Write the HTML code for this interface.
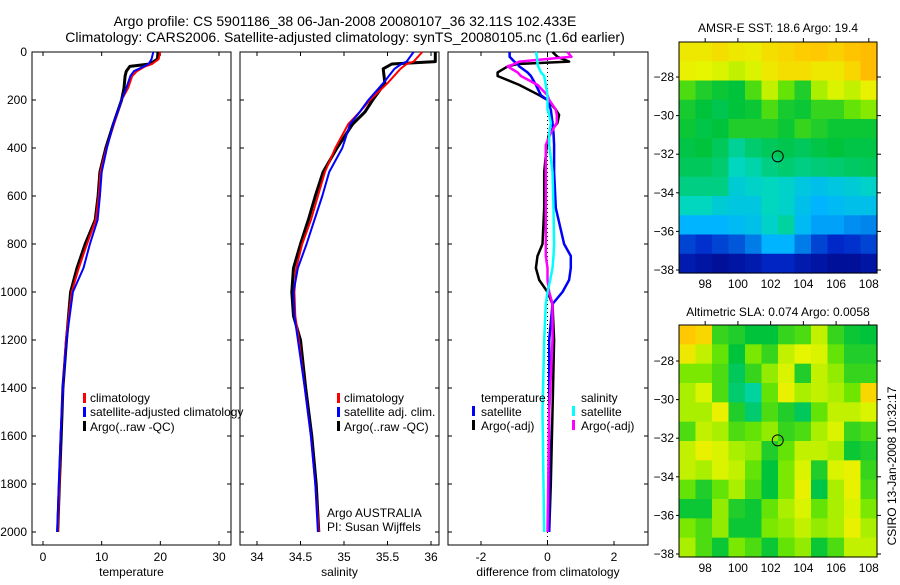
<!DOCTYPE html>
<html><head><meta charset="utf-8"><style>
html,body{margin:0;padding:0;background:#fff;}
svg text{font-family:"Liberation Sans",sans-serif;fill:#000;}
</style></head><body>
<svg id="fig" xmlns="http://www.w3.org/2000/svg" width="900" height="580" viewBox="0 0 900 580">
<text x="345" y="26" font-size="14" text-anchor="middle">Argo profile: CS 5901186_38 06-Jan-2008 20080107_36 32.11S 102.433E</text>
<text x="345" y="42" font-size="14" text-anchor="middle">Climatology: CARS2006. Satellite-adjusted climatology: synTS_20080105.nc (1.6d earlier)</text>
<g id="plots"></g>
<text x="778" y="32" font-size="12" text-anchor="middle">AMSR-E SST: 18.6 Argo: 19.4</text>
<text x="778" y="316" font-size="12" text-anchor="middle">Altimetric SLA: 0.074 Argo: 0.0058</text>
<text x="0" y="0" font-size="12" text-anchor="middle" transform="translate(896,466) rotate(-90)">CSIRO 13-Jan-2008 10:32:17</text>
<text x="90" y="402" font-size="12">climatology</text>
<text x="90" y="416" font-size="12">satellite-adjusted climatology</text>
<text x="90" y="431" font-size="12">Argo(..raw -QC)</text>
<rect x="83" y="393" width="3" height="10" fill="#f00"/><rect x="83" y="407" width="3" height="10" fill="#00f"/><rect x="83" y="421" width="3" height="10" fill="#000"/>
<text x="344" y="402" font-size="12">climatology</text>
<text x="344" y="416" font-size="12">satellite adj. clim.</text>
<text x="344" y="431" font-size="12">Argo(..raw -QC)</text>
<rect x="337" y="393" width="3" height="10" fill="#f00"/><rect x="337" y="407" width="3" height="10" fill="#00f"/><rect x="337" y="421" width="3" height="10" fill="#000"/>
<text x="327" y="517" font-size="12">Argo AUSTRALIA</text>
<text x="327" y="531" font-size="12">PI: Susan Wijffels</text>
<text x="481" y="402" font-size="12">temperature</text>
<text x="481" y="416" font-size="12">satellite</text>
<text x="481" y="430" font-size="12">Argo(-adj)</text>
<rect x="472" y="406" width="3" height="10" fill="#00f"/><rect x="472" y="420" width="3" height="10" fill="#000"/>
<text x="581" y="402" font-size="12">salinity</text>
<text x="581" y="416" font-size="12">satellite</text>
<text x="581" y="430" font-size="12">Argo(-adj)</text>
<rect x="572" y="406" width="3" height="10" fill="#0ff"/><rect x="572" y="420" width="3" height="10" fill="#f0f"/>
</svg>
<script>
// ---- profile data ----
const tDepth=[0,30,50,60,80,100,150,200,300,400,500,600,700,800,900,1000,1200,1400,1600,1800,2000];
const tArgo=[19.6,19.5,18.2,14.8,14.2,14.0,13.8,13.4,12.0,10.7,9.7,9.4,8.9,7.2,5.8,4.7,4.0,3.4,3.1,2.8,2.5];
const tClim=[20.0,19.7,18.6,17.4,16.0,15.2,14.5,13.4,12.1,10.8,9.8,9.5,9.0,7.5,6.1,4.9,3.9,3.4,3.0,2.8,2.5];
const tSat=[18.8,18.5,18.0,17.2,15.5,14.9,14.2,13.4,12.0,10.9,10.0,9.7,9.3,8.0,6.9,5.1,4.0,3.4,3.0,2.7,2.4];
const sDepth=[0,40,50,70,130,200,250,300,400,500,600,700,800,900,1000,1100,1200,1400,1600,1800,2000];
const sArgo=[36.05,36.05,35.55,35.45,35.47,35.33,35.24,35.1,34.92,34.76,34.67,34.59,34.5,34.42,34.4,34.42,34.5,34.56,34.63,34.68,34.71];
const sClim=[35.9,35.8,35.72,35.65,35.5,35.3,35.18,35.05,34.9,34.78,34.7,34.62,34.52,34.45,34.43,34.44,34.48,34.55,34.62,34.67,34.71];
const sSat=[35.8,35.72,35.66,35.58,35.45,35.28,35.18,35.07,34.98,34.83,34.75,34.66,34.57,34.47,34.42,34.43,34.47,34.55,34.62,34.67,34.7];
const dDepth=[0,20,40,50,60,85,100,137,180,200,240,262,295,338,388,500,650,800,850,900,950,1000,1050,1200,1500,1800,2000];
const dTempSat=[-1.14,-1.14,-1.0,-0.9,-0.85,-0.6,-0.5,-0.35,-0.2,0,0.1,0.12,0.15,0.18,0.2,0.2,0.25,0.5,0.7,0.7,0.65,0.45,0.15,0.05,0.05,0.05,0.05];
const dTempArgo=[0.15,0.3,0.65,-0.9,-1.2,-1.5,-1.5,-0.85,-0.25,0,0.25,0.35,0.3,0.05,-0.02,-0.1,-0.1,-0.15,-0.3,-0.35,-0.25,0.0,0.15,0.2,0.15,0.1,0.05];
const dSalSat=[-0.35,-0.32,-0.3,-0.3,-0.28,-0.2,-0.1,-0.05,0,0,0,0.05,0.1,0.05,0.05,0.15,0.18,0.2,0.18,0.15,0.08,0.0,-0.05,-0.1,-0.15,-0.12,-0.1];
const dSalArgo=[0.6,0.72,-0.85,-1.0,-1.2,-0.9,-0.8,-0.3,0,0.05,0.25,0.28,0.28,0.1,-0.05,-0.05,-0.05,-0.05,-0.05,0,0,0.05,0.15,0.15,0.05,0.02,0.0];
const tTicks=[0,10,20,30], sTicks=[34,34.5,35,35.5,36], dTicks=[-2,0,2];
const depthTicks=[0,200,400,600,800,1000,1200,1400,1600,1800,2000];
// ---- map data ----
const lonTicks=[98,100,102,104,106,108], latTicks1=[-28,-30,-32,-34,-36,-38], latTicks2=[-28,-30,-32,-34,-36,-38];
const floatLon=102.433, floatLat=-32.11;
const sstGrid=[
[.78,.78,.8,.78,.77,.8,.82,.84,.85,.83,.86,.88],
[.76,.75,.74,.72,.74,.78,.8,.8,.78,.78,.82,.88],
[.62,.58,.56,.55,.62,.72,.64,.58,.7,.74,.72,.76],
[.57,.55,.53,.55,.56,.62,.57,.56,.6,.6,.64,.67],
[.56,.54,.55,.58,.58,.58,.56,.6,.58,.56,.56,.56],
[.54,.55,.52,.46,.5,.52,.53,.52,.54,.55,.54,.54],
[.52,.52,.5,.42,.44,.48,.5,.48,.49,.5,.51,.52],
[.48,.48,.48,.38,.4,.42,.4,.36,.34,.36,.38,.4],
[.42,.42,.38,.36,.36,.42,.4,.34,.3,.32,.34,.34],
[.3,.3,.3,.32,.34,.4,.45,.32,.28,.28,.26,.25],
[.18,.16,.18,.2,.24,.3,.3,.24,.18,.15,.16,.18],
[.1,.08,.06,.08,.1,.14,.14,.1,.08,.06,.06,.08]];
const slaGrid=[
[.85,.82,.6,.58,.55,.55,.6,.62,.72,.6,.56,.55],
[.78,.72,.64,.55,.66,.6,.72,.75,.74,.64,.58,.58],
[.66,.66,.62,.52,.6,.68,.74,.58,.72,.68,.6,.6],
[.7,.74,.62,.5,.45,.64,.76,.7,.72,.7,.65,.82],
[.7,.7,.76,.58,.5,.62,.58,.52,.64,.72,.72,.74],
[.62,.72,.7,.62,.64,.68,.6,.62,.7,.74,.6,.62],
[.72,.76,.74,.7,.68,.58,.64,.72,.72,.7,.56,.58],
[.72,.7,.74,.72,.64,.55,.66,.74,.58,.74,.76,.6],
[.64,.58,.64,.7,.62,.55,.66,.76,.54,.7,.76,.62],
[.56,.56,.68,.58,.56,.64,.7,.74,.64,.7,.74,.66],
[.66,.62,.68,.56,.56,.66,.68,.72,.68,.7,.76,.7],
[.7,.62,.56,.66,.62,.56,.64,.68,.56,.62,.72,.72]];

const NS='http://www.w3.org/2000/svg';
const root=document.getElementById('plots');
function mk(tag,attrs,parent){const e=document.createElementNS(NS,tag);for(const k in attrs)e.setAttribute(k,attrs[k]);(parent||root).appendChild(e);return e;}
const yDepth=d=>52+d*0.24;
function lin(d0,d1,p0,p1){return v=>p0+(v-d0)*(p1-p0)/(d1-d0);}

function panel(name,x0,x1,xs,ticks,fmt,xlabel){
  const g=mk('g',{});
  
  
  const fr=mk('rect',{x:x0,y:52,width:x1-x0,height:493,fill:'none',stroke:'#000','stroke-width':1},g);
  
  
  ticks.forEach(t=>{const x=xs(t);
    mk('line',{x1:x,x2:x,y1:545,y2:541,stroke:'#000'},g);mk('line',{x1:x,x2:x,y1:52,y2:56,stroke:'#000'},g);
    const tx=mk('text',{x:x,y:561,'font-size':12,'text-anchor':'middle'},g);tx.textContent=fmt(t);
    
    });
  depthTicks.forEach(d=>{const y=yDepth(d);
    mk('line',{x1:x0,x2:x0+4,y1:y,y2:y,stroke:'#000'},g);mk('line',{x1:x1,x2:x1-4,y1:y,y2:y,stroke:'#000'},g);});
  const xl=mk('text',{x:(x0+x1)/2,y:576,'font-size':12,'text-anchor':'middle'},g);xl.textContent=xlabel;
  
  
  return g;
}
function series(g,name,depths,vals,xs,color,w){
  const pts=depths.map((d,i)=>xs(vals[i]).toFixed(1)+','+yDepth(d).toFixed(1)).join(' ');
  const p=mk('polyline',{points:pts,fill:'none',stroke:color,'stroke-width':w,'stroke-linejoin':'round'},g);
  
  
}
// depth labels
depthTicks.forEach(d=>{const t=mk('text',{x:27,y:yDepth(d)+4,'font-size':12,'text-anchor':'end'});t.textContent=d;
  
  });
const xT=lin(0,30,43,219), xS=lin(34,36,257,431), xD=lin(-2,2,481,614);
const g1=panel('temperature-panel',32,231,xT,tTicks,v=>v,'temperature');
series(g1,'temp-argo-line',tDepth,tArgo,xT,'#000',3);
series(g1,'temp-clim-line',tDepth,tClim,xT,'#f00',2);
series(g1,'temp-sat-line',tDepth,tSat,xT,'#00f',2);
const g2=panel('salinity-panel',240,439,xS,sTicks,v=>v,'salinity');
series(g2,'sal-argo-line',sDepth,sArgo,xS,'#000',3);
series(g2,'sal-clim-line',sDepth,sClim,xS,'#f00',2);
series(g2,'sal-sat-line',sDepth,sSat,xS,'#00f',2);
const g3=panel('difference-panel',448,648,xD,dTicks,v=>v,'difference from climatology');
mk('line',{x1:xD(0),x2:xD(0),y1:52,y2:545,stroke:'#000','stroke-dasharray':'1,3'},g3);
series(g3,'diff-temp-argo-line',dDepth,dTempArgo,xD,'#000',2.5);
series(g3,'diff-temp-sat-line',dDepth,dTempSat,xD,'#00f',2.5);
series(g3,'diff-sal-argo-line',dDepth,dSalArgo,xD,'#f0f',2.5);
series(g3,'diff-sal-sat-line',dDepth,dSalSat,xD,'#0ff',2.5);

// ---- maps ----
const stops=[[0,[0,0,120]],[.15,[0,40,200]],[.3,[0,180,255]],[.42,[0,215,190]],[.55,[0,195,60]],[.65,[110,230,0]],[.75,[230,245,0]],[.85,[255,200,0]],[1,[255,140,0]]];
function cmap(v){for(let i=1;i<stops.length;i++){if(v<=stops[i][0]){const a=stops[i-1],b=stops[i],f=(v-a[0])/(b[0]-a[0]);
  return 'rgb('+a[1].map((c,j)=>Math.round(c+(b[1][j]-c)*f)).join(',')+')';}}return 'rgb(255,140,0)';}
function map(name,grid,top,bottom,latTicks){
  const x0=679,x1=877,lonL=96.4,lonR=108.5;
  const xs=lin(lonL,lonR,x0,x1), latTop=-26.2+(top-42)*0, ys=lin(-28,-38,top+ (name==='sst-map'?35:36),top+(name==='sst-map'?228:229));
  const latT=-28+(top-ys(-28))/-19.3*-1; // not used
  const g=mk('g',{});
  
  
  const R=grid.length,C=grid[0].length,cw=(x1-x0)/C,ch=(bottom-top)/R;
  grid.forEach((row,r)=>row.forEach((v,c)=>{
    const cell=mk('rect',{x:(x0+c*cw).toFixed(2),y:(top+r*ch).toFixed(2),width:(cw+0.6).toFixed(2),height:(ch+0.6).toFixed(2),fill:cmap(v)},g);
    
    
  }));
  mk('rect',{x:x0,y:top,width:x1-x0,height:bottom-top,fill:'none',stroke:'#000'},g);
  lonTicks.forEach(l=>{const x=xs(l);mk('line',{x1:x,x2:x,y1:top,y2:top-4,stroke:'#000'},g);
    const t=mk('text',{x:x,y:bottom+15,'font-size':12,'text-anchor':'middle'},g);t.textContent=l;
    
    });
  latTicks.forEach(l=>{const y=ys(l);mk('line',{x1:x1,x2:x1+4,y1:y,y2:y,stroke:'#000'},g);mk('line',{x1:x0,x2:x0-3,y1:y,y2:y,stroke:'#000'},g);
    const t=mk('text',{x:x0-5,y:y+4,'font-size':12,'text-anchor':'end'},g);t.textContent=String(l).replace('-','\u2212');
    
    });
  const m=mk('circle',{cx:xs(floatLon),cy:ys(floatLat),r:5.5,fill:'none',stroke:'#000','stroke-width':1},g);
  
  
}
map('sst-map',sstGrid,42,273,latTicks1);
map('sla-map',slaGrid,325,557,latTicks2);
</script>
</body></html>
